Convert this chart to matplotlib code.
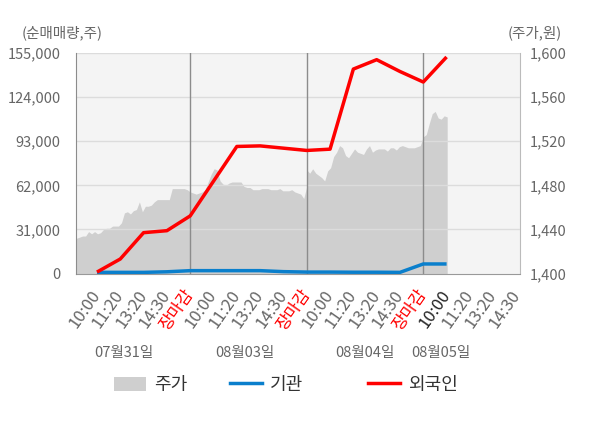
import numpy as np
import matplotlib
matplotlib.use('Agg')
import matplotlib.pyplot as plt
from matplotlib.patches import Patch
from matplotlib.lines import Line2D
from matplotlib.transforms import ScaledTranslation

plt.rcParams['font.family'] = ['Noto Sans CJK KR', 'DejaVu Sans']

# ---------------- data ----------------
tick_labels = ['10:00', '11:20', '13:20', '14:30', '장마감',
               '10:00', '11:20', '13:20', '14:30', '장마감',
               '10:00', '11:20', '13:20', '14:30', '장마감',
               '10:00', '11:20', '13:20', '14:30']
date_labels = ['07월31일', '08월03일', '08월04일', '08월05일']

price_day1 = [1431, 1432, 1433, 1434, 1434, 1438, 1436, 1438, 1436, 1437,
              1440, 1441, 1441, 1443, 1443, 1443, 1446, 1455, 1456, 1454,
              1457, 1458, 1465, 1456, 1461, 1461, 1462, 1465, 1467, 1467,
              1467, 1467, 1467, 1477, 1477, 1477, 1477, 1477, 1476, 1474]
price_day2 = [1474, 1473, 1472, 1473, 1474, 1476, 1483, 1490, 1495, 1494,
              1484, 1481, 1480, 1482, 1483, 1483, 1483, 1483, 1479, 1478,
              1478, 1476, 1476, 1476, 1477, 1477, 1477, 1476, 1476, 1476,
              1477, 1475, 1475, 1475, 1476, 1474, 1473, 1472, 1468, 1479]
price_day3 = [1494, 1491, 1495, 1491, 1489, 1487, 1484, 1493, 1496, 1506,
              1510, 1516, 1514, 1507, 1505, 1509, 1513, 1510, 1509, 1508,
              1513, 1516, 1510, 1512, 1513, 1513, 1513, 1511, 1514, 1514,
              1512, 1515, 1516, 1515, 1514, 1514, 1514, 1515, 1516, 1524]
price_day4 = [1524, 1526, 1536, 1545, 1547, 1541, 1540, 1543, 1542]

foreign = [1000, 10200, 28700, 30100, 40500, 64900, 89300, 89700, 88100,
           86500, 87400, 143700, 150300, 142000, 134600, 152200]
institution = [800, 800, 800, 1200, 2000, 2000, 2000, 2000, 1300,
               1000, 1000, 900, 900, 800, 6700, 6700]

left_ticks = [0, 31000, 62000, 93000, 124000, 155000]
right_ticks = [1400, 1440, 1480, 1520, 1560, 1600]

# ---------------- figure ----------------
fig = plt.figure(figsize=(6.0, 4.28), dpi=100)
ax_p = fig.add_axes([76/600, 1-273.5/428, 444/600, 220.5/428])
ax_p.set_facecolor('#f4f4f4')
ax_f = ax_p.twinx()
ax_p.yaxis.tick_right()
ax_p.yaxis.set_label_position('right')
ax_f.yaxis.tick_left()
ax_f.yaxis.set_label_position('left')
ax_f.patch.set_visible(False)

days = [price_day1, price_day2, price_day3, price_day4]
px, py = [], []
for d, vals in enumerate(days):
    px.extend(5 * d + np.arange(len(vals)) * 5 / 39)
    py.extend(vals)
ax_p.fill_between(px, 1400, py, color='#cfcfcf', linewidth=0, zorder=1)

slots = np.arange(1, len(foreign) + 1)
ax_f.plot(slots, institution, color='#0a7fcc', lw=2.5, zorder=5,
          solid_capstyle='butt')
ax_f.plot(slots, foreign, color='#ff0000', lw=2.5, zorder=6,
          solid_capstyle='butt')

ax_f.set_ylim(0, 155000)
ax_p.set_ylim(1400, 1600)
ax_p.set_xlim(0.1, 19.15)

ax_f.set_yticks(left_ticks)
ax_f.set_yticklabels([f'{v:,}' for v in left_ticks])
ax_p.set_yticks(right_ticks)
ax_p.set_yticklabels([f'{v:,}' for v in right_ticks])

for v in left_ticks[1:]:
    ax_f.axhline(v, color='#dcdcdc', lw=1.0, zorder=2)
for sep in [5, 10, 15]:
    ax_f.axvline(sep, color='#8c8c8c', lw=1.0, zorder=3)

for a in (ax_p, ax_f):
    a.tick_params(axis='both', length=0, labelsize=10.5, colors='#666666')
    for s in a.spines.values():
        s.set_visible(False)

ax_p.set_xticks(np.arange(1, len(tick_labels) + 1))
ax_p.set_xticklabels(tick_labels, rotation=55, ha='right',
                     rotation_mode='anchor', va='center', fontsize=12)
off = ScaledTranslation(5/100, 0, fig.dpi_scale_trans)
for i, lab in enumerate(ax_p.get_xticklabels()):
    lab.set_transform(lab.get_transform() + off)
    if tick_labels[i] == '장마감':
        lab.set_color('#ff0000')
    elif i == 15:
        lab.set_color('#222222')
    else:
        lab.set_color('#666666')

ax_p.tick_params(axis='x', pad=13)
ax_f.tick_params(axis='y', pad=11)
ax_p.tick_params(axis='y', pad=7)
ax_f.spines['left'].set_visible(True)
ax_f.spines['left'].set_color('#8c8c8c')
ax_p.spines['right'].set_visible(True)
ax_p.spines['right'].set_color('#bbbbbb')
ax_p.spines['bottom'].set_visible(True)
ax_p.spines['bottom'].set_color('#999999')

# axis titles
fig.text(22/600, 1-33/428, '(순매매량,주)', fontsize=10.5, color='#666666',
         ha='left', va='center')
fig.text(562/600, 1-33/428, '(주가,원)', fontsize=10.5, color='#666666',
         ha='right', va='center')

# date labels
for lab, xc in zip(date_labels, [124, 244.5, 365.3, 440.5]):
    fig.text(xc/600, 1-353.5/428, lab, fontsize=10.5, color='#666666',
             ha='center', va='center')

# legend
items = [
    (Patch(facecolor='#cfcfcf', edgecolor='none'), '주가', 114),
    (Line2D([], [], color='#0a7fcc', lw=2.5), '기관', 230),
    (Line2D([], [], color='#ff0000', lw=2.5), '외국인', 368),
]
for h, t, xl in items:
    fig.legend(handles=[h], labels=[t], loc='center left',
               bbox_to_anchor=(xl/600, 1-385/428), frameon=False,
               borderaxespad=0, borderpad=0, fontsize=13,
               handlelength=1.75, handleheight=0.85, handletextpad=0.45,
               labelcolor='#333333')

fig.savefig('out.png', dpi=100)
